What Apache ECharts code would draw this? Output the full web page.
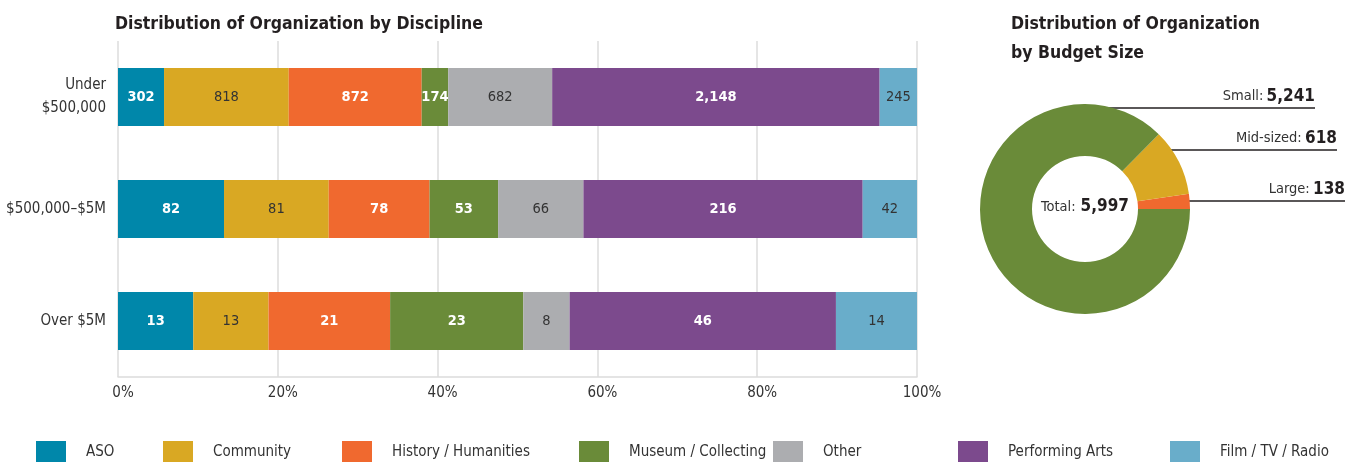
<!DOCTYPE html>
<html>
<head>
<meta charset="utf-8">
<style>
  html, body { margin: 0; padding: 0; background: #fff; }
  #chart { width: 1356px; height: 462px; }
</style>
<script src="https://cdn.jsdelivr.net/npm/echarts@6/dist/echarts.min.js"></script>
</head>
<body>
<div id="chart"></div>
<script>
// Budget-size rows (top to bottom)
const budgetCategories = ['Under\n$500,000', '$500,000–$5M', 'Over $5M'];

// Organization counts per discipline, one value per budget row
const disciplines = ['ASO', 'Community', 'History / Humanities', 'Museum / Collecting', 'Other', 'Performing Arts', 'Film / TV / Radio'];
const asoCounts = [302, 82, 13];
const communityCounts = [818, 81, 13];
const historyCounts = [872, 78, 21];
const museumCounts = [174, 53, 23];
const otherCounts = [682, 66, 8];
const performingCounts = [2148, 216, 46];
const filmCounts = [245, 42, 14];

// Budget-size totals for the donut
const sizeNames = ['Large', 'Mid-sized', 'Small'];
const sizeCounts = [138, 618, 5241];

const percentTicks = [0, 20, 40, 60, 80, 100];

const FONT = "'DejaVu Sans Condensed', 'Liberation Sans Narrow', sans-serif";
const colors = ['#0087aa', '#d9a823', '#f0692f', '#6a8b39', '#acadb0', '#7c4a8d', '#69adca'];
const lightLabel = [true, false, true, true, false, true, false];
const sizeColors = ['#f0692f', '#d9a823', '#6a8b39'];

const countSets = [asoCounts, communityCounts, historyCounts, museumCounts, otherCounts, performingCounts, filmCounts];
const rowTotals = budgetCategories.map((_, i) => countSets.reduce((s, arr) => s + arr[i], 0));
const fmt = n => n.toLocaleString('en-US');

const barSeries = disciplines.map((name, k) => ({
  name: name,
  type: 'bar',
  stack: 'share',
  barWidth: 58,
  itemStyle: { color: colors[k] },
  emphasis: { disabled: true },
  label: {
    show: true,
    position: 'inside',
    fontFamily: FONT,
    fontSize: 14.5,
    fontWeight: lightLabel[k] ? 'bold' : 'normal',
    color: lightLabel[k] ? '#ffffff' : '#333333',
    formatter: p => fmt(countSets[k][p.dataIndex])
  },
  data: countSets[k].map((v, i) => v / rowTotals[i] * 100)
}));

// Donut leader rows: right end of text/line, line y, line start x
const leaderRows = {
  'Small': { right: 1315, y: 108, startX: 1099 },
  'Mid-sized': { right: 1337, y: 150, startX: 1156 },
  'Large': { right: 1345, y: 201, startX: 1179 }
};
const grandTotal = sizeCounts.reduce((a, b) => a + b, 0);

// One legend block per discipline so each sits at its own column
const legendLefts = [36, 163, 342, 579, 773, 958, 1170];
const legends = disciplines.map((name, k) => ({
  data: [name],
  left: legendLefts[k],
  top: 441,
  padding: 0,
  itemWidth: 30,
  itemHeight: 22,
  icon: 'rect',
  selectedMode: false,
  textStyle: { fontFamily: FONT, fontSize: 15, color: '#333', padding: [2, 0, 0, 15] }
}));

const chart = echarts.init(document.getElementById('chart'), null, { renderer: 'canvas' });
chart.setOption({
  animation: false,
  color: colors,
  title: [
    {
      text: 'Distribution of Organization by Discipline',
      left: 115, top: 10, padding: 0,
      textStyle: { fontFamily: FONT, fontSize: 17.5, fontWeight: 'bold', color: '#231f20', lineHeight: 28 }
    },
    {
      text: 'Distribution of Organization\nby Budget Size',
      left: 1011, top: 10, padding: 0,
      textStyle: { fontFamily: FONT, fontSize: 17.5, fontWeight: 'bold', color: '#231f20', lineHeight: 29 }
    },
    {
      text: '{a|Total:} {b|' + fmt(grandTotal) + '}',
      left: 1085, top: 194, padding: 0, textAlign: 'center',
      textStyle: {
        fontWeight: 'normal',
        rich: {
          a: { fontFamily: FONT, fontSize: 14.5, fontWeight: 'normal', color: '#333', lineHeight: 26 },
          b: { fontFamily: FONT, fontSize: 17, fontWeight: 'bold', color: '#231f20', lineHeight: 26 }
        }
      }
    }
  ],
  legend: legends,
  grid: { left: 118, right: 439, top: 41, bottom: 85, containLabel: false, outerBoundsMode: 'none' },
  xAxis: {
    type: 'value',
    min: 0, max: 100, interval: 20,
    axisLine: { show: true, lineStyle: { color: '#dcdcdc', width: 1.5 } },
    axisTick: { show: false },
    splitLine: { show: true, lineStyle: { color: '#dcdcdc', width: 1.5 } },
    axisLabel: {
      margin: 9,
      fontFamily: FONT, fontSize: 15, color: '#333',
      padding: [0, 0, 0, 10],
      formatter: v => percentTicks.includes(v) ? v + '%' : ''
    }
  },
  yAxis: {
    type: 'category',
    inverse: true,
    data: budgetCategories,
    axisLine: { show: false },
    axisTick: { show: false },
    axisLabel: {
      margin: 12,
      fontFamily: FONT, fontSize: 15, color: '#333', lineHeight: 23, align: 'right'
    }
  },
  series: barSeries.concat([{
    name: 'Budget Size',
    type: 'pie',
    center: [1085, 209],
    radius: [53, 105],
    startAngle: 0,
    clockwise: false,
    silent: true,
    emphasis: { disabled: true },
    data: sizeNames.map((n, i) => ({ name: n, value: sizeCounts[i], itemStyle: { color: sizeColors[i] } })),
    label: {
      show: true,
      position: 'outside',
      overflow: 'none',
      formatter: p => '{n|' + p.name + ':} {v|' + fmt(p.value) + '}',
      rich: {
        n: { fontFamily: FONT, fontSize: 14.5, color: '#333' },
        v: { fontFamily: FONT, fontSize: 17, fontWeight: 'bold', color: '#231f20' }
      }
    },
    labelLine: { show: true, lineStyle: { color: '#231f20', width: 1.5 } },
    labelLayout: p => {
      const row = leaderRows[sizeNames[p.dataIndex]];
      return {
        x: row.right,
        y: row.y - 3,
        align: 'right',
        verticalAlign: 'bottom',
        labelLinePoints: [[row.startX, row.y], [row.right, row.y], [row.right, row.y]]
      };
    }
  }])
});
</script>
</body>
</html>
